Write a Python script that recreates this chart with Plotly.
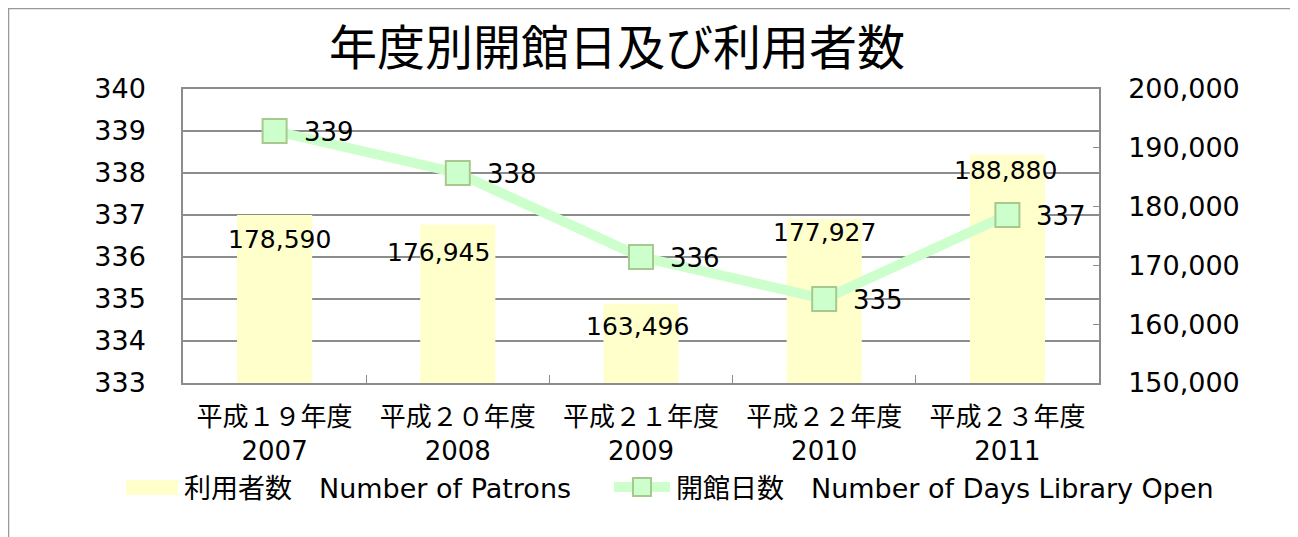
import plotly.graph_objects as go

categories = ["平成１９年度<br>2007", "平成２０年度<br>2008", "平成２１年度<br>2009",
              "平成２２年度<br>2010", "平成２３年度<br>2011"]
patrons = [178590, 176945, 163496, 177927, 188880]
days_open = [339, 338, 336, 335, 337]
left_ticks = [333, 334, 335, 336, 337, 338, 339, 340]
right_ticks = [150000, 160000, 170000, 180000, 190000, 200000]
series_names = ["利用者数　Number of Patrons", "開館日数　Number of Days Library Open"]

# label nudges (style only)
bar_label_xshift = [5, -19, -4, 0, -2]
bar_label_yshift = [-25, -28, -23, -14, -16]

FONT = "DejaVu Sans, Noto Sans CJK JP"
PAGE_OFF = 8  # default body margin of the html page
W, H = 1298 - PAGE_OFF, 537 - PAGE_OFF
# plot area in page pixels
PL, PR, PT, PB = 183, 1099, 89, 383
L, R, T, B = PL - PAGE_OFF, PR - PAGE_OFF, PT - PAGE_OFF, PB - PAGE_OFF

BAR_COLOR = "#FFFFCC"
LINE_COLOR = "#CCFFCC"
MARKER_EDGE = "#A8C88F"
GRID = "#8c8c8c"


def px(x):
    return (x - PL) / (PR - PL)


def py(y):
    return (PB - y) / (PB - PT)


fig = go.Figure()
fig.add_trace(go.Bar(
    x=categories, y=patrons, yaxis="y", name=series_names[0],
    marker=dict(color=BAR_COLOR, line=dict(width=0)), width=0.41,
))
fig.add_trace(go.Scatter(
    x=categories, y=days_open, yaxis="y2", name=series_names[1],
    mode="lines+markers",
    line=dict(color=LINE_COLOR, width=10),
    marker=dict(symbol="square", size=24, color=LINE_COLOR, line=dict(color=MARKER_EDGE, width=2)),
))

annotations = []
for i, (c, v) in enumerate(zip(categories, patrons)):
    annotations.append(dict(
        x=c, y=v, xref="x", yref="y", text=f"{v:,}", showarrow=False,
        xshift=bar_label_xshift[i], yshift=bar_label_yshift[i],
        font=dict(family=FONT, size=25, color="#000"),
    ))
for c, v in zip(categories, days_open):
    annotations.append(dict(
        x=c, y=v, xref="x", yref="y2", text=str(v), showarrow=False,
        xanchor="left", xshift=27, yshift=-1,
        font=dict(family=FONT, size=26, color="#000"),
    ))
annotations.append(dict(
    x=px(617), y=py(44), xref="paper", yref="paper", text="年度別開館日及び利用者数",
    showarrow=False, font=dict(family="Noto Sans CJK JP", size=48, color="#000"),
    xanchor="center", yanchor="middle",
))
# legend texts
annotations.append(dict(x=px(182), y=py(488), xref="paper", yref="paper", text=series_names[0],
                        showarrow=False, xanchor="left", yanchor="middle",
                        font=dict(family=FONT, size=27, color="#000")))
annotations.append(dict(x=px(674), y=py(488), xref="paper", yref="paper", text=series_names[1],
                        showarrow=False, xanchor="left", yanchor="middle",
                        font=dict(family=FONT, size=27, color="#000")))

shapes = [
    dict(type="rect", xref="paper", yref="paper",
         x0=px(8.5), x1=px(1296.5), y0=py(560), y1=py(8.5),
         line=dict(color="#999999", width=1.5), layer="below"),
    # legend symbols
    dict(type="rect", xref="paper", yref="paper", x0=px(126), x1=px(178), y0=py(495), y1=py(480),
         fillcolor=BAR_COLOR, line=dict(width=0)),
    dict(type="line", xref="paper", yref="paper", x0=px(614), x1=px(670), y0=py(487), y1=py(487),
         line=dict(color=LINE_COLOR, width=10)),
    dict(type="rect", xref="paper", yref="paper", x0=px(633), x1=px(651), y0=py(496), y1=py(478),
         fillcolor=LINE_COLOR, line=dict(color=MARKER_EDGE, width=2)),
]

fig.update_layout(
    width=W, height=H,
    margin=dict(l=L, r=W - R, t=T, b=H - B, pad=0),
    paper_bgcolor="white", plot_bgcolor="white",
    font=dict(family=FONT, color="#000"),
    showlegend=False,
    xaxis=dict(
        type="category", showgrid=False, showline=True, linecolor=GRID, linewidth=1.5,
        ticks="inside", ticklen=8, tickcolor=GRID, tickson="boundaries",
        tickfont=dict(family=FONT, size=26, color="#000"), ticklabelstandoff=10,
        mirror=True, automargin=False,
    ),
    yaxis=dict(
        range=[150000, 200000], tickvals=right_ticks, side="right",
        showgrid=False, showline=True, linecolor=GRID, linewidth=1.5,
        ticks="inside", ticklen=6, tickcolor=GRID, tickformat=",d",
        tickfont=dict(family=FONT, size=27, color="#000"), ticklabelstandoff=22,
        zeroline=False, automargin=False,
    ),
    yaxis2=dict(
        range=[333, 340], tickvals=left_ticks, overlaying="y", side="left",
        showgrid=True, gridcolor=GRID, gridwidth=1.5,
        showline=True, linecolor=GRID, linewidth=1.5, ticks="",
        tickfont=dict(family=FONT, size=27, color="#000"), ticklabelstandoff=30,
        zeroline=False, automargin=False,
    ),
    annotations=annotations,
    shapes=shapes,
)

fig.write_html("out.html")
